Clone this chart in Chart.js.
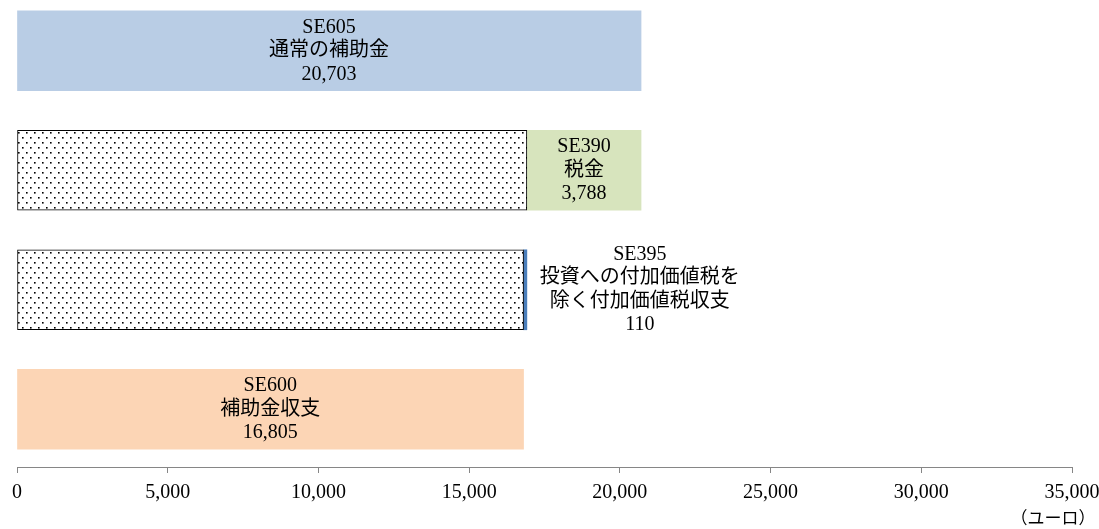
<!DOCTYPE html>
<html>
<head>
<meta charset="utf-8">
<script src="https://cdn.jsdelivr.net/npm/chart.js@4"></script>
<style>
  html, body { margin: 0; padding: 0; background: #fff; }
  #wrap { width: 1099px; height: 529px; position: relative; }
</style>
</head>
<body>
<div id="wrap"><canvas id="chart"></canvas></div>
<script>
// データ（ユーロ）
const rowIndex = [0, 1, 2, 3];               // 上から順
const subsidy = 20703;                       // SE605 通常の補助金
const tax = 3788;                            // SE390 税金
const vatBalance = 110;                      // SE395
const subsidyBalance = 16805;                // SE600 補助金収支
const barLabels = [
  ['SE605', '通常の補助金', '20,703'],
  ['SE390', '税金', '3,788'],
  ['SE395', '投資への付加価値税を', '除く付加価値税収支', '110'],
  ['SE600', '補助金収支', '16,805']
];
const tickValues = [0, 5000, 10000, 15000, 20000, 25000, 30000, 35000];
const unitLabel = '（ユーロ）';

// 点描パターン
function dotPattern() {
  const c = document.createElement('canvas');
  c.width = 8; c.height = 10;
  const g = c.getContext('2d');
  g.fillStyle = '#fff';
  g.fillRect(0, 0, 8, 10);
  g.fillStyle = '#000';
  g.fillRect(2, 2, 1.6, 1.6);
  g.fillRect(6, 7, 1.6, 1.6);
  return g.createPattern(c, 'repeat');
}
const dots = dotPattern();

const fontFamily = '"Liberation Serif", "Noto Sans CJK JP", serif';

// ラベル描画
const labelPlugin = {
  id: 'barText',
  afterDatasetsDraw(chart) {
    const ctx = chart.ctx;
    const xs = chart.scales.x, ys = chart.scales.y;
    const spots = [
      [ subsidy / 2, rowIndex[0] ],
      [ subsidy - tax / 2, rowIndex[1] ],
      [ subsidyBalance + vatBalance, rowIndex[2] ],
      [ subsidyBalance / 2, rowIndex[3] ]
    ];
    ctx.save();
    ctx.fillStyle = '#000';
    ctx.textAlign = 'center';
    ctx.textBaseline = 'middle';
    ctx.font = '20px ' + fontFamily;
    spots.forEach((s, i) => {
      let x = xs.getPixelForValue(s[0]);
      if (i === 2) x += 113;
      const y = ys.getPixelForValue(s[1]);
      const lines = barLabels[i];
      const lh = 23.5;
      lines.forEach((t, k) => {
        ctx.fillText(t, x, y + (k - (lines.length - 1) / 2) * lh);
      });
    });
    ctx.font = '17px ' + fontFamily;
    ctx.fillText(unitLabel, 1053, 520);
    ctx.restore();
  }
};

new Chart(document.getElementById('chart'), {
  type: 'bar',
  data: {
    datasets: [
      { data: [{ x: [0, subsidy], y: rowIndex[0] }], backgroundColor: '#B9CDE5' },
      { data: [{ x: [0, subsidyBalance + vatBalance], y: rowIndex[1] }, { x: [0, subsidyBalance], y: rowIndex[2] }],
        backgroundColor: dots, borderColor: '#000', borderWidth: 1, borderSkipped: false },
      { data: [{ x: [subsidy - tax, subsidy], y: rowIndex[1] }], backgroundColor: '#D7E4BD' },
      { data: [{ x: [subsidyBalance, subsidyBalance + vatBalance], y: rowIndex[2] }], backgroundColor: '#4A7EBB' },
      { data: [{ x: [0, subsidyBalance], y: rowIndex[3] }], backgroundColor: '#FCD5B5' }
    ]
  },
  plugins: [labelPlugin],
  options: {
    indexAxis: 'y',
    responsive: true,
    maintainAspectRatio: false,
    animation: false,
    layout: { padding: { left: 17, right: 27, top: 0, bottom: 16 } },
    plugins: { legend: { display: false }, tooltip: { enabled: false } },
    datasets: { bar: { barThickness: 80, grouped: false } },
    scales: {
      y: { type: 'linear', display: false, reverse: true, offset: false, min: -0.425, max: 3.483 },
      x: {
        type: 'linear', min: 0, max: 35000,
        afterBuildTicks(axis) { axis.ticks = tickValues.map(v => ({ value: v })); },
        afterFit(axis) { axis.paddingLeft = 0; axis.paddingRight = 0; },
        grid: { display: true, drawOnChartArea: false, drawTicks: true, tickLength: 6, tickColor: '#868686' },
        border: { display: true, color: '#868686', width: 1 },
        ticks: {
          color: '#000', padding: 8,
          font: { family: fontFamily, size: 20 },
          callback: v => v.toLocaleString('en-US')
        }
      }
    }
  }
});
</script>
</body>
</html>
